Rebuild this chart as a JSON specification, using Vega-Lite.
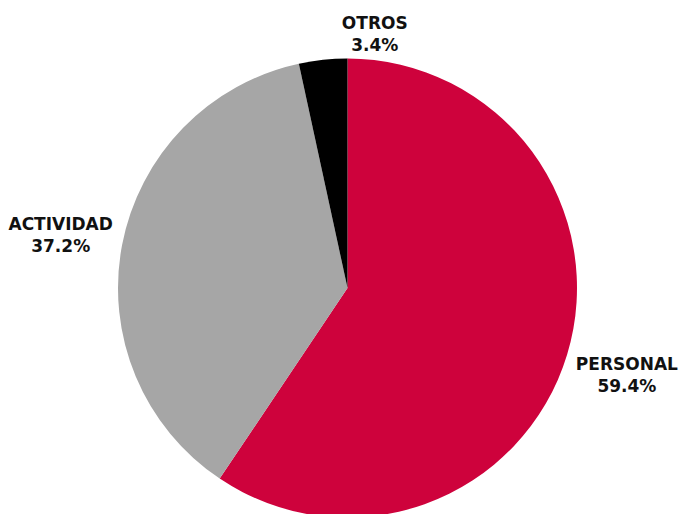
{
  "$schema": "https://vega.github.io/schema/vega-lite/v6.json",
  "autosize": "none",
  "width": 695,
  "height": 576,
  "padding": 0,
  "background": "white",
  "config": {"view": {"stroke": null}},
  "data": {"values": [
    {"categoria": "PERSONAL", "valor": 0.594, "orden": 1},
    {"categoria": "ACTIVIDAD", "valor": 0.372, "orden": 2},
    {"categoria": "OTROS", "valor": 0.034, "orden": 3}
  ]},
  "encoding": {
    "theta": {"field": "valor", "type": "quantitative", "stack": true},
    "order": {"field": "orden", "type": "quantitative"}
  },
  "layer": [
    {
      "mark": {"type": "arc", "outerRadius": 229.5},
      "encoding": {
        "color": {"field": "categoria", "type": "nominal", "legend": null,
          "scale": {"domain": ["PERSONAL", "ACTIVIDAD", "OTROS"], "range": ["#CE023C", "#A6A6A6", "#000000"]}}
      }
    },
    {
      "transform": [{"filter": "datum.categoria !== 'OTROS'"}],
      "mark": {"type": "text", "radius": 292, "dy": -8, "font": "DejaVu Sans", "fontWeight": "bold", "fontSize": 17, "color": "#111111"},
      "encoding": {"text": {"field": "categoria"}}
    },
    {
      "transform": [{"filter": "datum.categoria !== 'OTROS'"}],
      "mark": {"type": "text", "radius": 292, "dy": 14, "font": "DejaVu Sans", "fontWeight": "bold", "fontSize": 17, "color": "#111111"},
      "encoding": {"text": {"field": "valor", "format": ".1%"}}
    },
    {
      "transform": [{"filter": "datum.categoria === 'OTROS'"}],
      "mark": {"type": "text", "radius": 256, "dy": -9, "font": "DejaVu Sans", "fontWeight": "bold", "fontSize": 17, "color": "#111111"},
      "encoding": {"text": {"field": "categoria"}}
    },
    {
      "transform": [{"filter": "datum.categoria === 'OTROS'"}],
      "mark": {"type": "text", "radius": 256, "dy": 13, "font": "DejaVu Sans", "fontWeight": "bold", "fontSize": 17, "color": "#111111"},
      "encoding": {"text": {"field": "valor", "format": ".1%"}}
    }
  ]
}
